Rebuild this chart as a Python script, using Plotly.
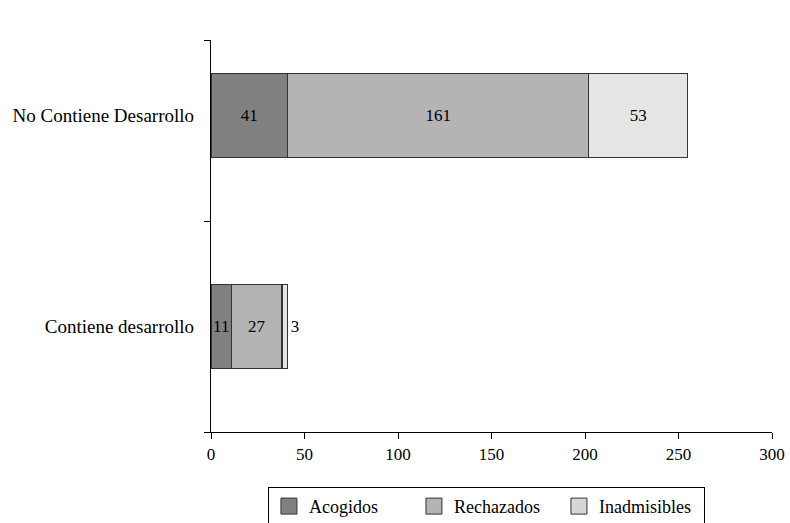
import plotly.graph_objects as go

categories = ["Contiene desarrollo", "No Contiene Desarrollo"]
acogidos = [11, 41]
rechazados = [27, 161]
inadmisibles = [3, 53]
x_ticks = [0, 50, 100, 150, 200, 250, 300]

FONT = "Liberation Serif"
pos = list(range(len(categories)))

fig = go.Figure()
series = [
    ("Acogidos", acogidos, "#808080", ["inside", "inside"]),
    ("Rechazados", rechazados, "#b4b4b4", ["inside", "inside"]),
    ("Inadmisibles", inadmisibles, "#e5e5e5", ["outside", "inside"]),
]
for name, vals, col, tp in series:
    fig.add_trace(go.Bar(
        name=name, y=pos, x=vals, orientation="h",
        marker=dict(color=col, line=dict(color="#333333", width=1.2)),
        width=0.4, showlegend=False,
        text=[str(v) for v in vals], textposition=tp,
        insidetextanchor="middle", constraintext="none",
        textfont=dict(family=FONT, size=17, color="black"),
        cliponaxis=False,
    ))
legend_cols = {"Acogidos": "#808080", "Rechazados": "#b4b4b4", "Inadmisibles": "#d6d6d6"}
for name, vals, col, tp in series:
    fig.add_trace(go.Scatter(
        name=name, x=[None], y=[None], mode="markers",
        marker=dict(symbol="square", size=16, color=legend_cols[name],
                    line=dict(color="#333333", width=1)),
        showlegend=True,
    ))

fig.update_layout(
    barmode="stack",
    width=790, height=523,
    margin=dict(l=211, r=18, t=40, b=91, autoexpand=False),
    plot_bgcolor="white", paper_bgcolor="white",
    font=dict(family=FONT, size=17, color="black"),
    showlegend=True,
    legend=dict(
        orientation="h", x=0.491, xanchor="center", y=-0.14, yanchor="top",
        bordercolor="black", borderwidth=1,
        font=dict(family=FONT, size=18, color="black"),
        traceorder="normal", entrywidth=100, entrywidthmode="pixels",
        itemwidth=30,
    ),
)
fig.update_xaxes(
    range=[0, 300], tickvals=x_ticks, ticks="outside", ticklen=6,
    tickcolor="black", showline=True, linecolor="black", linewidth=1.3,
    showgrid=False, zeroline=False, tickfont=dict(family=FONT, size=17),
)
fig.update_yaxes(
    range=[-0.5, 1.358], tickvals=pos, ticktext=categories, ticks="",
    showline=True, linecolor="black", linewidth=1.3, showgrid=False,
    zeroline=False, tickfont=dict(family=FONT, size=19), ticklabelstandoff=12,
    minor=dict(tickvals=[-0.5, 0.5, 1.358], ticks="outside", ticklen=6,
               tickcolor="black", showgrid=False),
)
fig.write_html("out.html", config={"displayModeBar": False},
               post_script="document.body.style.margin='0';document.body.style.padding='0';")
